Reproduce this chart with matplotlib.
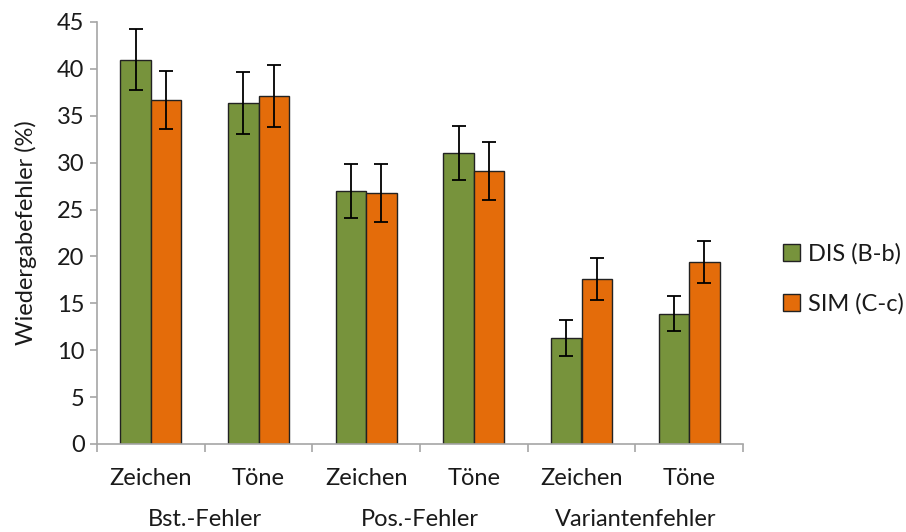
import numpy as np
import matplotlib
matplotlib.use("Agg")
import matplotlib.pyplot as plt
import matplotlib.transforms as mtransforms

plt.rcParams['font.family'] = ['Lato', 'DejaVu Sans']
font_size = 17

# data
categories = ["Zeichen", "Töne", "Zeichen", "Töne", "Zeichen", "Töne"]
groups = ["Bst.-Fehler", "Pos.-Fehler", "Variantenfehler"]
series = ["DIS (B-b)", "SIM (C-c)"]
dis_vals = [41.0, 36.4, 27.0, 31.0, 11.3, 13.9]
dis_err = [3.3, 3.3, 2.9, 2.9, 1.9, 1.9]
sim_vals = [36.7, 37.1, 26.8, 29.1, 17.6, 19.4]
sim_err = [3.1, 3.3, 3.1, 3.1, 2.2, 2.2]

green = "#77933C"
orange = "#E46C0A"
axis_grey = "#A6A6A6"
text_col = "#1a1a1a"

fig = plt.figure(figsize=(9.06, 5.32), dpi=100)
ax = fig.add_axes([97 / 906, 88 / 532, 646 / 906, 422 / 532])

x = np.arange(len(categories))
w = 0.284
err_kw = dict(ecolor="black", elinewidth=1.3, capsize=5, capthick=1.3)
ax.bar(x - w / 2, dis_vals, w, yerr=dis_err, color=green, edgecolor="#222222",
       linewidth=1.0, label=series[0], error_kw=err_kw)
ax.bar(x + w / 2, sim_vals, w, yerr=sim_err, color=orange, edgecolor="#222222",
       linewidth=1.0, label=series[1], error_kw=err_kw)

ax.set_xlim(-0.5, len(categories) - 0.5)
ax.set_ylim(0, 45)
ax.set_yticks(np.arange(0, 46, 5))

for s in ["top", "right"]:
    ax.spines[s].set_visible(False)
for s in ["left", "bottom"]:
    ax.spines[s].set_color(axis_grey)
    ax.spines[s].set_linewidth(1.2)

ax.set_xticks(x)
ax.set_xticklabels(categories)
ax.set_xticks(np.arange(-0.5, len(categories), 1), minor=True)
ax.tick_params(axis="x", which="major", length=0, pad=17, labelsize=font_size,
               labelcolor=text_col)
ax.tick_params(axis="x", which="minor", length=6, width=1.2, color=axis_grey,
               direction="out")
ax.tick_params(axis="y", length=5, width=1.2, color=axis_grey, pad=4,
               labelsize=font_size, labelcolor=text_col)

trans = mtransforms.blended_transform_factory(ax.transData, ax.transAxes)
for i, g in enumerate(groups):
    ax.text(2 * i + 0.5, -0.18, g, transform=trans, ha="center", va="center",
            fontsize=font_size, color=text_col)

ax.set_ylabel("Wiedergabefehler (%)", fontsize=font_size, color=text_col,
              labelpad=14)

leg = fig.legend(loc="center left", bbox_to_anchor=(783 / 906, 1 - 279 / 532),
                 frameon=False, fontsize=font_size, handlelength=0.7,
                 handleheight=0.7, handletextpad=0.35, labelspacing=1.2,
                 borderpad=0, borderaxespad=0)
for t in leg.get_texts():
    t.set_color(text_col)

fig.savefig("out.png", dpi=100)
